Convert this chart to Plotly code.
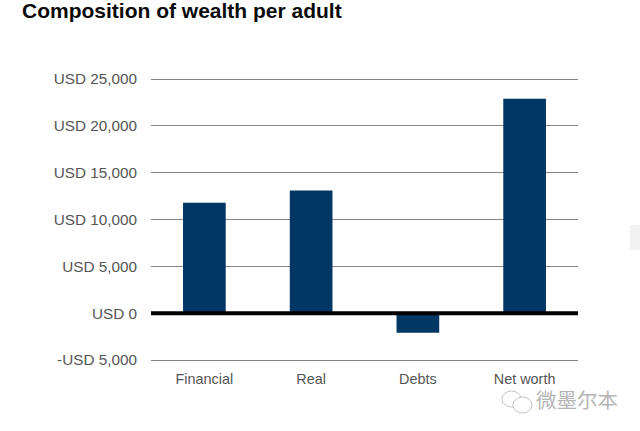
import plotly.graph_objects as go

categories = ["Financial", "Real", "Debts", "Net worth"]
values = [11800, 13100, -2100, 22900]
tick_values = [-5000, 0, 5000, 10000, 15000, 20000, 25000]
tick_labels = ["-USD 5,000", "USD 0", "USD 5,000", "USD 10,000", "USD 15,000", "USD 20,000", "USD 25,000"]
title = "Composition of wealth per adult"
watermark = "微墨尔本"

PL, PR, PT, PB = 151, 578, 77, 362
def px(x): return (x - PL) / (PR - PL)
def py(y): return (PB - y) / (PB - PT)

fig = go.Figure(go.Bar(x=categories, y=values, marker_color="#003764", marker_line_width=0, width=0.4))
fig.update_layout(
    width=640, height=431, margin=dict(l=PL, r=640 - PR, t=PT, b=431 - PB),
    paper_bgcolor="white", plot_bgcolor="white", showlegend=False,
    font=dict(family="Liberation Sans", size=15, color="#555555"),
    title=dict(text="<b>" + title + "</b>", x=22 / 640, xanchor="left", y=1 - 11 / 431, yanchor="middle",
               font=dict(size=21, color="#0a0a0a")),
)
fig.update_yaxes(range=[-5214, 25214], tickvals=tick_values, ticktext=tick_labels,
                 gridcolor="#858585", gridwidth=1, ticks="", zeroline=False,
                 ticklabelstandoff=13, tickfont=dict(size=15.3))
fig.update_xaxes(ticks="", showline=False, ticklabelstandoff=7, tickfont=dict(size=14.4))
fig.add_shape(type="line", xref="paper", yref="y", x0=0, x1=1, y0=0, y1=0,
              line=dict(color="#000000", width=4), layer="above")
fig.add_shape(type="rect", xref="paper", yref="paper", x0=px(630), x1=px(640), y0=py(250), y1=py(225),
              fillcolor="#f2f2f2", line_width=0)
fig.add_shape(type="circle", xref="paper", yref="paper", x0=px(502), x1=px(521), y0=py(407), y1=py(391),
              line=dict(color="#c4c4c4", width=1), fillcolor="white")
fig.add_shape(type="circle", xref="paper", yref="paper", x0=px(513), x1=px(532), y0=py(413), y1=py(397),
              line=dict(color="#c4c4c4", width=1), fillcolor="white")
fig.add_annotation(text=watermark, xref="paper", yref="paper", x=px(620), y=py(399),
                   showarrow=False, xanchor="right", yanchor="middle",
                   font=dict(family="Noto Sans CJK SC", size=20.5, color="#b5b5b5"))
fig.write_html("out.html", post_script="document.body.style.margin='0';", config={"displayModeBar": False})
